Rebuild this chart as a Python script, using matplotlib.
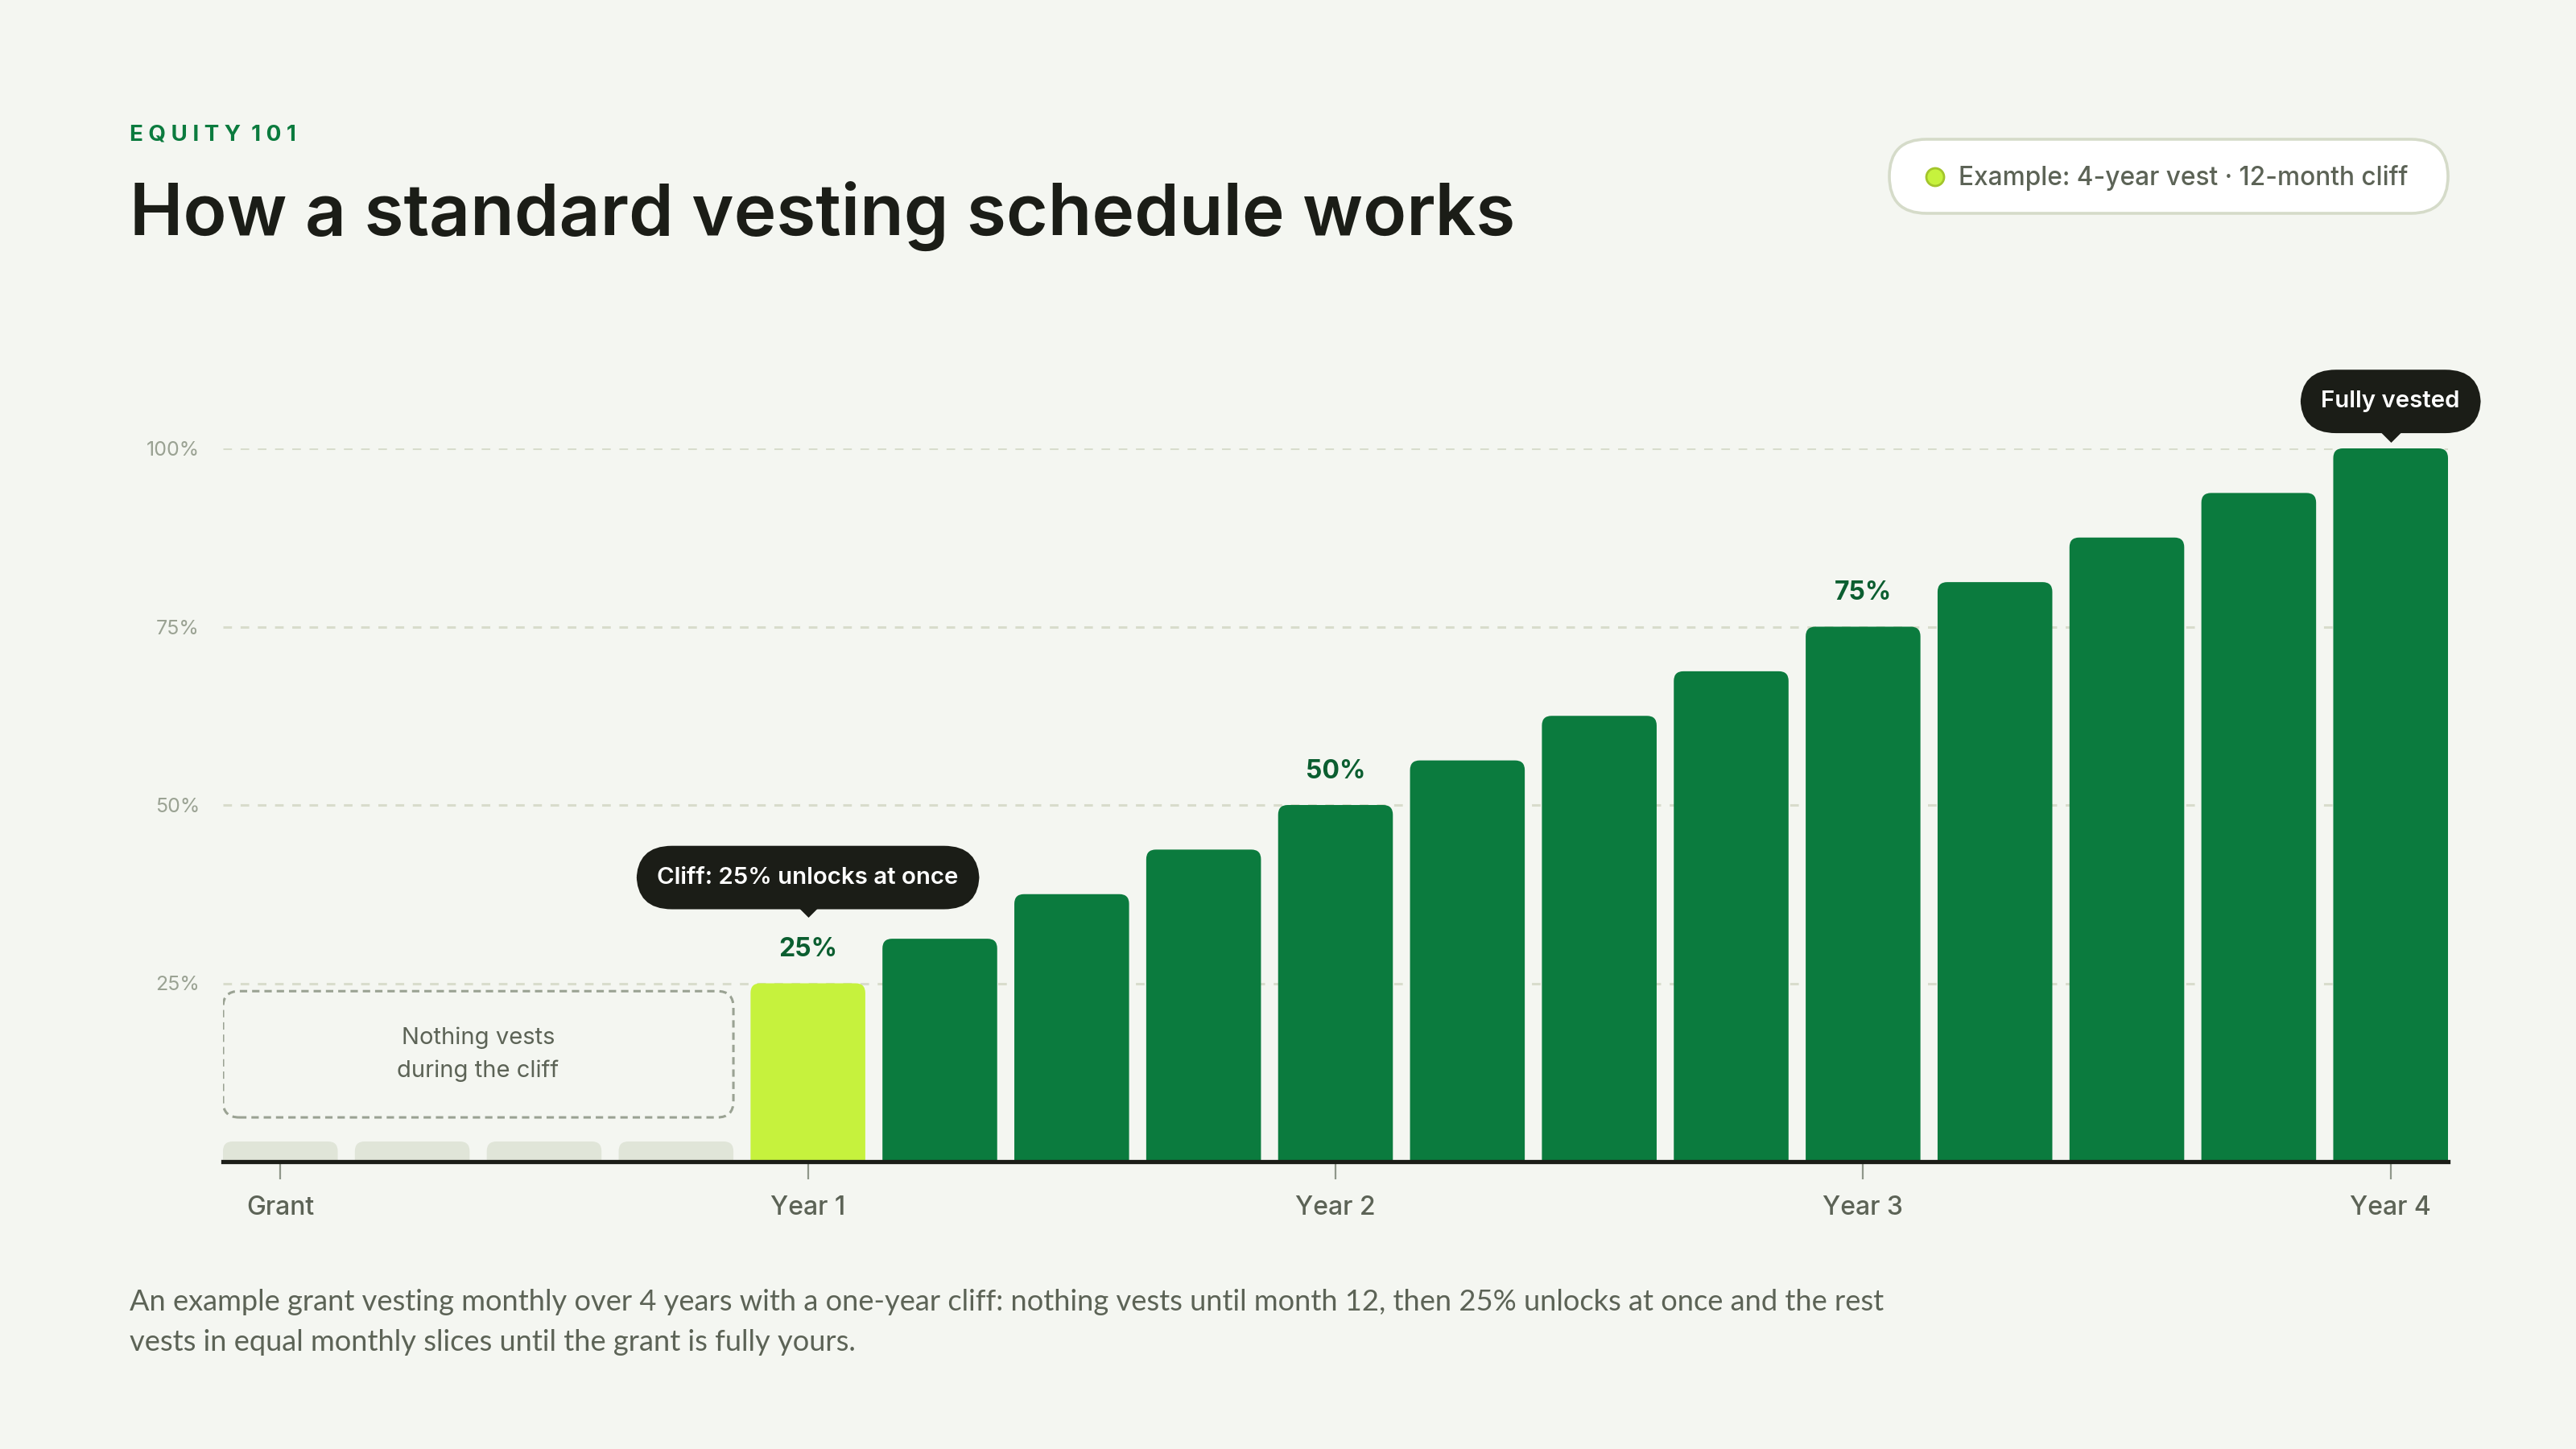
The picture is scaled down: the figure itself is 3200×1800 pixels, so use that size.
import matplotlib
matplotlib.use("Agg")
import matplotlib.pyplot as plt
from matplotlib.patches import FancyBboxPatch, Circle
from matplotlib.transforms import offset_copy

# vesting % at the end of each quarter (0 = grant date)
quarters = list(range(17))
vested = [0, 0, 0, 0, 25, 31.25, 37.5, 43.75, 50, 56.25, 62.5, 68.75, 75,
          81.25, 87.5, 93.75, 100]
tick_pos = [0, 4, 8, 12, 16]
tick_labels = ["Grant", "Year 1", "Year 2", "Year 3", "Year 4"]
y_ticks = [25, 50, 75, 100]
y_tick_labels = ["25%", "50%", "75%", "100%"]
milestones = [25, 50, 75]
cliff_q = 4

BG = "#f4f6f1"
GREEN = "#0b7b3e"
LIME = "#c6f23d"
STUB = "#e0e5d8"
DARK = "#1b1d17"
TEXT = "#5c6356"
LIGHT = "#9aa293"
GRID = "#d8dccc"

plt.rcParams["font.family"] = ["Inter", "DejaVu Sans"]

W, H = 3200, 1800
fig = plt.figure(figsize=(16, 9), dpi=200, facecolor=BG)

# main axes in pixel layout
ax_l, ax_b, ax_w, ax_h = 277, 357, 2764, 886
ax = fig.add_axes([ax_l / W, ax_b / H, ax_w / W, ax_h / H])
ax.set_facecolor(BG)
bw = 0.87
ax.set_xlim(-bw / 2, quarters[-1] + bw / 2)
ax.set_ylim(0, 100)
for s in ax.spines.values():
    s.set_visible(False)

px_x = ax_w / (quarters[-1] + bw)
px_y = ax_h / 100
asp = px_x / px_y
r = 12 / px_x

for y in y_ticks:
    ax.axhline(y, color=GRID, lw=1.1, dashes=(3.5, 3.5), zorder=0)

stub_h = 25 / px_y
for q, v in zip(quarters, vested):
    if v == 0:
        c, h = STUB, stub_h
    elif q == cliff_q:
        c, h = LIME, v
    else:
        c, h = GREEN, v
    ax.add_patch(FancyBboxPatch((q - bw / 2, -5), bw, h + 5,
                                boxstyle=f"round,pad=0,rounding_size={r}",
                                mutation_aspect=asp, fc=c, ec="none", zorder=2))

ax.axhline(0, color=DARK, lw=1.9, zorder=4, clip_on=False)

ax.set_xticks(tick_pos, tick_labels)
ax.tick_params(axis="x", length=8, width=0.8, color="#8f978a", pad=7,
               labelsize=11.5, labelcolor=TEXT)
for t in ax.get_xticklabels():
    t.set_fontweight("medium")
ax.set_yticks(y_ticks, y_tick_labels)
ax.tick_params(axis="y", length=0, pad=10.5, labelsize=9, labelcolor=LIGHT)

# milestone labels
for q, v in zip(quarters, vested):
    if v in milestones:
        ax.annotate(f"{v:.0f}%", (q, v), xytext=(0, 15), textcoords="offset points",
                    ha="center", va="center", fontsize=11.5, fontweight="bold",
                    color="#0b5e30", zorder=5)

tri = [(-1, 0), (1, 0), (0, -1)]


def callout(q, v, text, dy_box, dy_tri):
    ax.annotate(text, (q, v), xytext=(0, dy_box), textcoords="offset points",
                ha="center", va="center", fontsize=10.6, fontweight="semibold",
                color="white", zorder=6, annotation_clip=False,
                bbox=dict(boxstyle="round,pad=0.88,rounding_size=1.5", fc=DARK, ec="none"))
    tr = offset_copy(ax.transData, fig=fig, x=0, y=dy_tri, units="points")
    ax.plot([q], [v], marker=tri, ms=9.7, color=DARK, mec="none",
            transform=tr, clip_on=False, zorder=6)


callout(cliff_q, vested[cliff_q], "Cliff: 25% unlocks at once", 47.3, 34.4)
callout(quarters[-1], vested[-1], "Fully vested", 21, 7.4)

# dashed cliff box over the zero bars
zero_q = [q for q, v in zip(quarters, vested) if v == 0]
x0, x1 = zero_q[0] - bw / 2, zero_q[-1] + bw / 2
y0, y1 = 6.2, 23.9
ax.add_patch(FancyBboxPatch((x0, y0), x1 - x0, y1 - y0,
                            boxstyle=f"round,pad=0,rounding_size={20 / px_x}",
                            mutation_aspect=asp, fc="none", ec=LIGHT, lw=1.1,
                            linestyle=(0, (3, 2)), zorder=3))
ax.text((x0 + x1) / 2, (y0 + y1) / 2, "Nothing vests\nduring the cliff",
        ha="center", va="center", fontsize=10.5, color=TEXT, linespacing=1.6,
        zorder=3)

# header / legend / caption in pixel coords
deco = fig.add_axes([0, 0, 1, 1], zorder=-1)
deco.set_xlim(0, W)
deco.set_ylim(H, 0)
deco.axis("off")

sp = "\u2009\u200a"
deco.text(161, 175, sp.join("EQUITY") + sp + " " + sp.join("101"),
          fontsize=10, fontweight="bold", color=GREEN, va="baseline")
title = deco.text(161, 292, "How a standard vesting schedule works", fontsize=36,
                  fontweight="semibold", color=DARK, va="baseline")

deco.add_patch(FancyBboxPatch((2347, 173), 694, 92,
                              boxstyle="round,pad=0,rounding_size=46",
                              fc="white", ec="#d5dbc9", lw=1.3))
deco.add_patch(Circle((2404, 220), 11, fc=LIME, ec="#a3c52c", lw=1))
deco.text(2433, 221, "Example: 4-year vest \u00b7 12-month cliff", fontsize=11.4,
          fontweight="medium", color=TEXT, va="center")

cap1 = deco.text(161, 1618, "An example grant vesting monthly over 4 years with a one-year cliff: "
                 "nothing vests until month 12, then 25% unlocks at once and the rest",
                 fontsize=12.5, color=TEXT, va="center", family=["Lato", "DejaVu Sans"])
cap2 = deco.text(161, 1667, "vests in equal monthly slices until the grant is fully yours.",
                 fontsize=12.5, color=TEXT, va="center", family=["Lato", "DejaVu Sans"])

# fit widths of the long texts to the reference
fig.canvas.draw()
for t, target in [(title, 1723), (cap1, 2183)]:
    w = t.get_window_extent().width
    t.set_fontsize(t.get_fontsize() * target / w)
cap2.set_fontsize(cap1.get_fontsize())

fig.savefig("out.png", dpi=200, facecolor=BG)
